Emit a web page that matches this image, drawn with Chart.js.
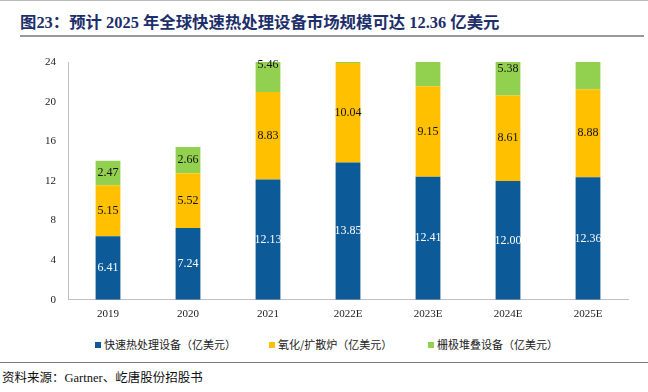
<!DOCTYPE html>
<html>
<head>
<meta charset="utf-8">
<script src="https://cdn.jsdelivr.net/npm/chart.js@4/dist/chart.umd.min.js"></script>
<style>
  html, body { margin: 0; padding: 0; background: #fff; }
  body { width: 648px; height: 392px; position: relative; overflow: hidden; font-family: "Liberation Serif", "Noto Sans CJK SC", serif; }
  .topline { position: absolute; left: 0; top: 0; width: 648px; height: 1px; background: #bbb; }
  .title { position: absolute; left: 20px; top: 9px; font-size: 16.4px; font-weight: bold; color: #1d2f6b; white-space: nowrap; }
  .titleline { position: absolute; left: 20px; top: 35px; width: 624px; height: 2px; background: #999; }
  .chartbox { position: absolute; left: 0; top: 40px; width: 648px; height: 294px; }
  .legend { position: absolute; top: 336px; left: 0; width: 648px; height: 16px; font-family: "Noto Sans CJK SC", sans-serif; font-size: 11px; color: #222; }
  .legend span { position: absolute; top: 0; white-space: nowrap; line-height: 16px; }
  .legend i { display: inline-block; width: 6px; height: 6px; margin-right: 3px; vertical-align: 1px; }
  .srcline { position: absolute; left: 0; top: 362px; width: 648px; height: 1px; background: #777; }
  .source { position: absolute; left: 2px; top: 367px; font-size: 12.5px; color: #111; white-space: nowrap; }
</style>
</head>
<body>
<div class="topline"></div>
<div class="title">图23：预计 2025 年全球快速热处理设备市场规模可达 12.36 亿美元</div>
<div class="titleline"></div>
<div class="chartbox"><canvas id="chart"></canvas></div>
<div class="legend" id="legend"></div>
<div class="srcline"></div>
<div class="source">资料来源：Gartner、屹唐股份招股书</div>
<script>
const years = ['2019', '2020', '2021', '2022E', '2023E', '2024E', '2025E'];
const seriesNames = ['快速热处理设备（亿美元）', '氧化/扩散炉（亿美元）', '栅极堆叠设备（亿美元）'];
const rtpValues = [6.41, 7.24, 12.13, 13.85, 12.41, 12.00, 12.36];
const oxidationValues = [5.15, 5.52, 8.83, 10.04, 9.15, 8.61, 8.88];
// green labels for 2022E, 2023E, 2025E are cut off in the picture, so those are estimates
const gateStackValues = [2.47, 2.66, 5.46, 6.10, 5.90, 5.38, 6.00];
const yTicks = [0, 4, 8, 12, 16, 20, 24];
const colors = ['#0c5a97', '#ffc000', '#92d050'];

const tickFont = { family: '"Liberation Serif", "Times New Roman", serif', size: 11 };

// write the value in the middle of each segment, skip it when the middle is above the axis top
const segmentLabels = {
  id: 'segmentLabels',
  afterDatasetsDraw(chart) {
    const ctx = chart.ctx;
    const yScale = chart.scales.y;
    ctx.save();
    ctx.font = '12px "Liberation Serif", serif';
    ctx.textAlign = 'center';
    ctx.textBaseline = 'middle';
    chart.data.datasets.forEach((ds, di) => {
      const meta = chart.getDatasetMeta(di);
      meta.data.forEach((bar, i) => {
        let base = 0;
        for (let k = 0; k < di; k++) base += chart.data.datasets[k].data[i];
        const mid = base + ds.data[i] / 2;
        if (mid > yScale.max) return;
        ctx.fillStyle = di === 0 ? '#ffffff' : '#111111';
        ctx.fillText(ds.data[i].toFixed(2), bar.x, yScale.getPixelForValue(mid));
      });
    });
    ctx.restore();
  }
};

const chart = new Chart(document.getElementById('chart'), {
  type: 'bar',
  data: {
    labels: years,
    datasets: [
      { label: seriesNames[0], data: rtpValues, backgroundColor: colors[0] },
      { label: seriesNames[1], data: oxidationValues, backgroundColor: colors[1] },
      { label: seriesNames[2], data: gateStackValues, backgroundColor: colors[2] }
    ]
  },
  options: {
    responsive: true,
    maintainAspectRatio: false,
    animation: false,
    layout: { padding: { top: 22, right: 20, left: 30, bottom: 5 } },
    datasets: { bar: { barPercentage: 0.62, categoryPercentage: 0.5, borderWidth: 0 } },
    plugins: {
      legend: { display: false },
      tooltip: { enabled: false }
    },
    scales: {
      x: {
        stacked: true,
        grid: { display: false, drawTicks: false },
        border: { color: '#bfbfbf' },
        ticks: { color: '#222', font: tickFont, padding: 8 }
      },
      y: {
        stacked: true,
        min: 0,
        max: 24,
        afterBuildTicks(axis) { axis.ticks = yTicks.map(v => ({ value: v })); },
        afterFit(axis) { axis.width = 38; },
        grid: { display: false, drawTicks: false },
        border: { color: '#bfbfbf' },
        ticks: { color: '#222', font: tickFont, padding: 12 }
      }
    }
  },
  plugins: [segmentLabels]
});

// legend items placed where the reference has them
const legendX = [95, 269, 428];
document.getElementById('legend').innerHTML = chart.data.datasets.map((ds, i) =>
  `<span style="left:${legendX[i]}px"><i style="background:${ds.backgroundColor}"></i>${ds.label}</span>`
).join('');
</script>
</body>
</html>
